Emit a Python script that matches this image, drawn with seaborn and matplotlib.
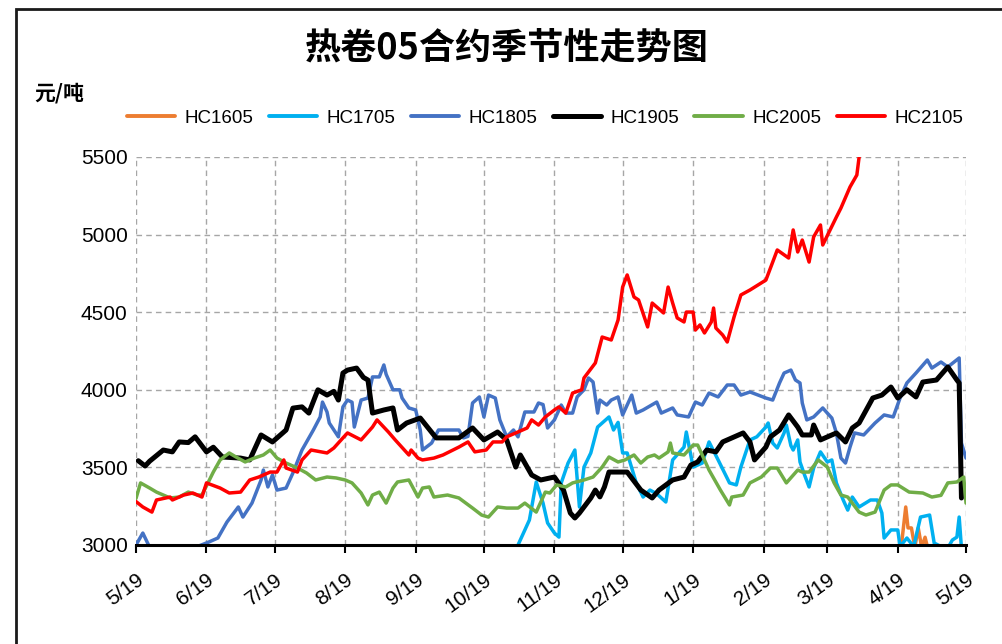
import matplotlib
matplotlib.use("Agg")
import matplotlib.pyplot as plt
import matplotlib.patches as mpatches
from matplotlib.lines import Line2D
import seaborn as sns
import pandas as pd
import numpy as np

# ---------------- data (x = days since 5/19) ----------------
start_date = "2020-05-19"
series_names = ["HC1605", "HC1705", "HC1805", "HC1905", "HC2005", "HC2105"]
series_colors = ["#ED7D31", "#00B0F0", "#4472C4", "#000000", "#70AD47", "#FF0000"]

hc1605_days = [336, 337, 338.5, 339.5, 341, 342.5, 344, 345.5, 347, 348.5]
hc1605_vals = [2950, 3050, 3245, 3110, 3110, 2985, 3110, 2985, 3050, 2960]

hc1705_days = [167, 168, 173, 176, 179, 181, 184, 186, 187, 190, 193, 195, 197, 200, 203, 205,
               208, 210, 212, 214, 216, 220, 223, 226, 229, 233, 236, 241, 242, 245, 249, 252,
               256, 261, 264, 266, 270, 273, 277, 278, 280, 282, 285, 286, 288, 289, 291, 292,
               294, 296, 298, 301, 304, 306, 308, 311, 313, 315, 318, 323, 326, 328, 329, 332,
               335, 336, 339, 342, 345, 349, 351, 354, 357, 359, 361, 362, 363]
hc1705_vals = [2980, 3000, 3161, 3406, 3270, 3142, 3077, 3051, 3400, 3528, 3612, 3245, 3502, 3593, 3760, 3786,
               3825, 3741, 3790, 3593, 3593, 3400, 3309, 3354, 3330, 3277, 3548, 3631, 3728, 3502, 3528, 3664,
               3548, 3400, 3387, 3502, 3677, 3697, 3760, 3786, 3657, 3625, 3722, 3773, 3640, 3612, 3677, 3535,
               3451, 3374, 3496, 3600, 3535, 3548, 3400, 3290, 3225, 3309, 3245, 3290, 3290, 3206, 3045, 3097,
               3097, 2990, 3045, 2990, 3180, 3193, 3013, 2990, 2980, 3032, 3051, 3180, 2980]

hc1805_days = [0, 3, 6, 17, 27, 32, 36, 40, 45, 47, 51, 55, 56, 58, 60, 62, 66, 69, 73, 78, 81, 82, 84, 85,
               89, 91, 93, 95, 96, 99, 102, 104, 107, 109, 110, 113, 116, 117, 120, 123, 125, 126, 130, 133,
               142, 144, 146, 148, 151, 153, 155, 158, 160, 163, 166, 168, 171, 175, 177, 179, 181, 184, 187,
               189, 192, 194, 197, 199, 201, 203, 204, 207, 209, 212, 214, 218, 220, 223, 229, 231, 236, 238,
               243, 246, 249, 252, 256, 260, 263, 266, 270, 277, 280, 283, 285, 288, 290, 292, 293, 295, 298,
               302, 304, 306, 308, 310, 312, 314, 316, 320, 325, 329, 333, 336, 339, 343, 348, 350, 354, 357,
               362, 363, 365]
hc1805_vals = [3000, 3077, 2985, 2950, 2990, 3019, 3045, 3148, 3245, 3180, 3270, 3419, 3483, 3374, 3451, 3354,
               3367, 3464, 3612, 3741, 3825, 3921, 3857, 3786, 3697, 3890, 3934, 3920, 3760, 3934, 3947, 4083,
               4083, 4160, 4100, 4000, 4000, 3947, 3883, 3870, 3741, 3612, 3657, 3741, 3741, 3690, 3700, 3915,
               3954, 3825, 3966, 3947, 3806, 3697, 3741, 3697, 3857, 3857, 3915, 3905, 3754, 3806, 3902, 3850,
               3850, 3954, 4000, 4076, 4050, 3850, 3934, 3902, 3934, 3954, 3838, 3966, 3850, 3870, 3921, 3850,
               3883, 3838, 3825, 3921, 3902, 3979, 3954, 4031, 4031, 3966, 3986, 3947, 3934, 4044, 4108, 4127,
               4063, 4044, 3915, 3806, 3825, 3883, 3850, 3818, 3722, 3560, 3528, 3631, 3722, 3709, 3786, 3838,
               3825, 3947, 4044, 4108, 4192, 4140, 4179, 4147, 4205, 3657, 3560]

hc1905_days = [1, 4, 6, 12, 16, 19, 23, 26, 31, 34, 38, 46, 50, 55, 60, 66, 69, 73, 76, 80, 84, 87, 89, 91,
               93, 97, 100, 102, 104, 109, 113, 115, 119, 125, 132, 142, 148, 153, 159, 163, 167, 169, 174,
               178, 184, 188, 191, 193, 195, 200, 202, 204, 206, 208, 216, 222, 227, 230, 236, 241, 244, 247,
               251, 255, 258, 267, 270, 272, 277, 279, 283, 287, 291, 293, 297, 298, 301, 308, 312, 315, 318,
               324, 328, 332, 335, 339, 343, 346, 352, 357, 361, 362, 363]
hc1905_vals = [3543, 3509, 3540, 3612, 3600, 3664, 3660, 3697, 3600, 3630, 3567, 3560, 3548, 3709, 3664, 3741,
               3882, 3890, 3850, 4000, 3966, 3990, 3934, 4108, 4127, 4140, 4080, 4063, 3850, 3870, 3883, 3741,
               3786, 3818, 3690, 3690, 3754, 3677, 3728, 3677, 3502, 3580, 3451, 3419, 3438, 3354, 3206, 3174,
               3206, 3303, 3354, 3310, 3374, 3470, 3470, 3354, 3303, 3354, 3419, 3438, 3515, 3535, 3612, 3600,
               3664, 3722, 3664, 3548, 3631, 3697, 3741, 3838, 3760, 3709, 3709, 3773, 3677, 3722, 3664, 3754,
               3786, 3947, 3966, 4018, 3947, 4000, 3954, 4050, 4063, 4147, 4063, 4044, 3303]

hc2005_days = [0, 2, 6, 9, 12, 15, 19, 23, 27, 29, 34, 37, 41, 44, 48, 52, 56, 59, 62, 66, 71, 75, 79, 84,
               88, 92, 95, 99, 102, 104, 107, 110, 113, 115, 120, 124, 126, 129, 131, 137, 142, 148, 152, 155,
               159, 163, 168, 171, 176, 180, 182, 185, 189, 192, 197, 201, 205, 208, 212, 215, 219, 222, 225,
               228, 230, 234, 235, 236, 241, 245, 247, 252, 257, 261, 262, 267, 270, 275, 279, 282, 286, 291,
               293, 296, 300, 304, 307, 310, 313, 315, 318, 321, 325, 329, 332, 335, 340, 346, 350, 354, 357,
               361, 364, 365]
hc2005_vals = [3300, 3400, 3367, 3341, 3322, 3303, 3309, 3341, 3322, 3322, 3470, 3548, 3593, 3567, 3535, 3560,
               3580, 3612, 3560, 3528, 3496, 3464, 3419, 3438, 3432, 3419, 3400, 3335, 3258, 3322, 3341, 3270,
               3367, 3406, 3419, 3309, 3367, 3374, 3309, 3322, 3303, 3238, 3193, 3180, 3245, 3238, 3238, 3270,
               3212, 3341, 3335, 3387, 3374, 3400, 3419, 3438, 3502, 3567, 3535, 3548, 3580, 3528, 3567, 3580,
               3560, 3600, 3657, 3593, 3580, 3644, 3644, 3483, 3354, 3258, 3309, 3322, 3400, 3438, 3496, 3496,
               3400, 3483, 3470, 3470, 3548, 3502, 3400, 3322, 3309, 3270, 3212, 3193, 3212, 3354, 3387, 3387,
               3341, 3335, 3309, 3320, 3400, 3406, 3438, 3270]

hc2105_days = [0, 3, 7, 9, 15, 16, 21, 25, 29, 31, 37, 41, 46, 50, 54, 59, 62, 65, 66, 71, 73, 77, 84, 87,
               91, 93, 99, 104, 106, 111, 114, 120, 121, 124, 126, 131, 135, 142, 146, 149, 154, 157, 161, 163,
               167, 172, 174, 177, 180, 184, 186, 189, 192, 196, 197, 202, 205, 209, 212, 214, 216, 219, 221,
               225, 227, 232, 234, 236, 238, 241, 242, 245, 246, 248, 250, 253, 254, 255, 258, 260, 263, 266,
               270, 277, 280, 282, 287, 289, 291, 293, 296, 298, 301, 302, 308, 310, 314, 317, 318, 321]
hc2105_vals = [3280, 3245, 3212, 3290, 3309, 3290, 3322, 3335, 3309, 3400, 3367, 3335, 3341, 3419, 3438, 3470,
               3470, 3548, 3496, 3470, 3548, 3612, 3593, 3625, 3690, 3722, 3677, 3760, 3806, 3728, 3677, 3580,
               3612, 3560, 3548, 3560, 3580, 3631, 3664, 3600, 3612, 3664, 3664, 3697, 3722, 3754, 3806, 3773,
               3825, 3870, 3890, 3850, 3979, 4000, 4076, 4173, 4340, 4321, 4450, 4662, 4740, 4598, 4579, 4405,
               4559, 4495, 4662, 4559, 4463, 4437, 4501, 4501, 4385, 4418, 4366, 4437, 4527, 4398, 4353, 4308,
               4469, 4611, 4643, 4707, 4823, 4901, 4849, 5030, 4888, 4965, 4823, 4985, 5062, 4933, 5113, 5171,
               5307, 5384, 5500, 5650]

month_tick_labels = ["5/19", "6/19", "7/19", "8/19", "9/19", "10/19", "11/19",
                     "12/19", "1/19", "2/19", "3/19", "4/19", "5/19"]
y_ticks = [3000, 3500, 4000, 4500, 5000, 5500]

title_text = "热卷05合约季节性走势图"
unit_text = "元/吨"

# ---------------- build tidy frame ----------------
all_days = [hc1605_days, hc1705_days, hc1805_days, hc1905_days, hc2005_days, hc2105_days]
all_vals = [hc1605_vals, hc1705_vals, hc1805_vals, hc1905_vals, hc2005_vals, hc2105_vals]
base = pd.Timestamp(start_date)
frames = []
for name, d, v in zip(series_names, all_days, all_vals):
    frames.append(pd.DataFrame({
        "date": base + pd.to_timedelta(np.array(d, dtype=float), unit="D"),
        "price": v,
        "contract": name,
    }))
df = pd.concat(frames, ignore_index=True)

# ---------------- plot ----------------
sns.set_theme(style="white")
plt.rcParams["font.family"] = ["Liberation Sans", "Noto Sans CJK SC", "DejaVu Sans"]
plt.rcParams["text.color"] = "black"
plt.rcParams["xtick.color"] = "black"
plt.rcParams["ytick.color"] = "black"

fig = plt.figure(figsize=(10.02, 6.44), dpi=100)
ax = fig.add_axes([136 / 1002, 1 - 545 / 644, (966 - 136) / 1002, (545 - 157) / 644])

widths = {"HC1905": 3.6}
for name, color in zip(series_names, series_colors):
    sub = df[df["contract"] == name]
    sns.lineplot(data=sub, x="date", y="price", color=color, ax=ax,
                 linewidth=widths.get(name, 2.5), legend=False, sort=True,
                 estimator=None, zorder=3)

tick_dates = pd.date_range(start=start_date, periods=13, freq=pd.DateOffset(months=1))
ax.set_xlim(tick_dates[0], tick_dates[-1])
ax.set_ylim(3000, 5500)
ax.set_xticks(tick_dates)
ax.set_xticklabels(month_tick_labels, rotation=36, ha="right", rotation_mode="anchor",
                   fontsize=15, color="black")
ax.set_yticks(y_ticks)
ax.set_yticklabels([str(t) for t in y_ticks], fontsize=15, color="black")
ax.set_xlabel("")
ax.set_ylabel("")

ax.grid(True, axis="both", linestyle=(0, (4, 3)), color="#A6A6A6", linewidth=1.0, zorder=0)
for s in ["left", "right", "top"]:
    ax.spines[s].set_visible(False)
ax.spines["bottom"].set_color("black")
ax.spines["bottom"].set_linewidth(2.2)
ax.spines["bottom"].set_zorder(4)
ax.tick_params(axis="x", which="major", direction="out", length=6, width=1.5,
               color="black", bottom=True, pad=12)
ax.tick_params(axis="y", length=0, pad=6)

# legend
handles = [Line2D([0], [0], color=c, linewidth=(3.6 if n == "HC1905" else 2.8))
           for n, c in zip(series_names, series_colors)]
leg = fig.legend(handles, series_names, loc="center", bbox_to_anchor=(545 / 1002, 1 - 118 / 644),
                 ncol=6, frameon=False, fontsize=13.5, handlelength=2.6, handletextpad=0.5,
                 columnspacing=0.8)
for t in leg.get_texts():
    t.set_color("black")

# title and unit
fig.text(507 / 1002, 1 - 48 / 644, title_text, ha="center", va="center", fontsize=26,
         fontweight="bold", color="black", family=["Noto Sans CJK SC", "DejaVu Sans"])
fig.text(34 / 1002, 1 - 93 / 644, unit_text, ha="left", va="center", fontsize=15,
         fontweight="bold", color="black", family=["Noto Sans CJK SC", "DejaVu Sans"])

# outer frame of the chart area
frame = mpatches.Rectangle((16 / 1002, -0.05), 1.1, 1 - 9 / 644 + 0.05, transform=fig.transFigure,
                           fill=False, edgecolor="#1a1a1a", linewidth=2.0, clip_on=False)
fig.patches.append(frame)

fig.savefig("out.png", dpi=100, facecolor="white")
